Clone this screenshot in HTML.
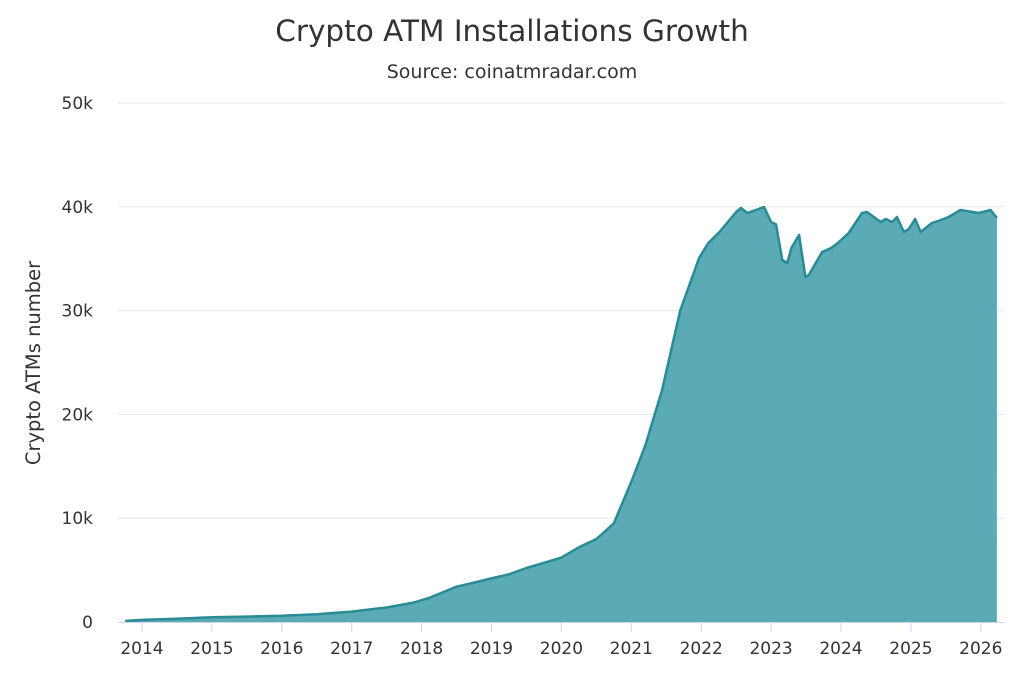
<!DOCTYPE html>
<html><head><meta charset="utf-8"><style>
body{margin:0;background:#fff;font-family:"DejaVu Sans",sans-serif;}
svg text{font-family:"DejaVu Sans",sans-serif;}
</style></head><body>
<svg id="chart" width="1024" height="683" xmlns="http://www.w3.org/2000/svg">
<text x="512" y="41" text-anchor="middle" font-size="29.5" fill="#333">Crypto ATM Installations Growth</text>
<text x="512" y="78" text-anchor="middle" font-size="19" fill="#333">Source: coinatmradar.com</text>
<text transform="translate(40,363) rotate(-90)" text-anchor="middle" font-size="19.5" fill="#333">Crypto ATMs number</text>
<g id="grid"></g><g id="series"></g><g id="axes"></g>
</svg>
<script>
const years=[2013.76,2014,2014.5,2015,2015.5,2016,2016.5,2017,2017.5,2017.9,2018.1,2018.5,2018.75,2019,2019.25,2019.5,2019.75,2020,2020.25,2020.5,2020.75,2021,2021.2,2021.44,2021.7,2021.97,2022.1,2022.26,2022.5,2022.57,2022.66,2022.9,2023.0,2023.07,2023.16,2023.23,2023.29,2023.4,2023.49,2023.54,2023.73,2023.86,2023.97,2024.11,2024.3,2024.37,2024.57,2024.64,2024.73,2024.8,2024.9,2024.97,2025.06,2025.14,2025.3,2025.43,2025.54,2025.71,2025.97,2026.14,2026.23];
const atms=[100,200,320,450,520,600,750,1000,1400,1900,2300,3400,3800,4200,4600,5200,5700,6200,7200,8000,9500,13500,17000,22350,30000,35070,36500,37570,39500,39880,39400,39980,38540,38300,34870,34590,36030,37280,33240,33430,35650,36030,36600,37480,39400,39500,38540,38820,38540,39020,37570,37860,38820,37570,38440,38730,39020,39690,39400,39690,38920];
const yTicks=[0,10000,20000,30000,40000,50000];
const yTickLabels=["0","10k","20k","30k","40k","50k"];
const xTicks=[2014,2015,2016,2017,2018,2019,2020,2021,2022,2023,2024,2025,2026];
const NS="http://www.w3.org/2000/svg";
const L=118,R=1005,Y0=622,Y50=103;
const xs=v=>142+(v-2014)*69.9;
const ys=v=>Y0-(v/50000)*(Y0-Y50);
function mk(t,a,p){const e=document.createElementNS(NS,t);for(const k in a)e.setAttribute(k,a[k]);p.appendChild(e);return e;}
const grid=document.getElementById('grid'),axes=document.getElementById('axes'),series=document.getElementById('series');
yTicks.forEach((v,i)=>{
 if(v>0){const g=mk('line',{x1:L,x2:R,y1:ys(v),y2:ys(v),stroke:'#e6e6e6','stroke-width':1},grid);
 
 }
 const t=mk('text',{x:93,y:ys(v)+6,'text-anchor':'end','font-size':17,fill:'#333'},axes);t.textContent=yTickLabels[i];
 
 
});
let d='M'+xs(years[0])+','+ys(atms[0]);
for(let i=1;i<years.length;i++)d+=' L'+xs(years[i]).toFixed(1)+','+ys(atms[i]).toFixed(1);
const area=mk('path',{d:d+' L'+xs(years[years.length-1])+','+Y0+' L'+xs(years[0])+','+Y0+' Z',fill:'#5aabb5',stroke:'none'},series);


const line=mk('path',{d:d,fill:'none',stroke:'#2a8b97','stroke-width':2.5,'stroke-linejoin':'round'},series);


const ax=mk('line',{x1:L,x2:R,y1:Y0+0.5,y2:Y0+0.5,stroke:'#ccd6eb','stroke-width':1},axes);


xTicks.forEach(v=>{
 const tk=mk('line',{x1:xs(v),x2:xs(v),y1:Y0,y2:Y0+10,stroke:'#ccd6eb','stroke-width':1},axes);
 
 
 const t=mk('text',{x:xs(v),y:654,'text-anchor':'middle','font-size':17,fill:'#333'},axes);t.textContent=v;
 
 
});
</script>
</body></html>
